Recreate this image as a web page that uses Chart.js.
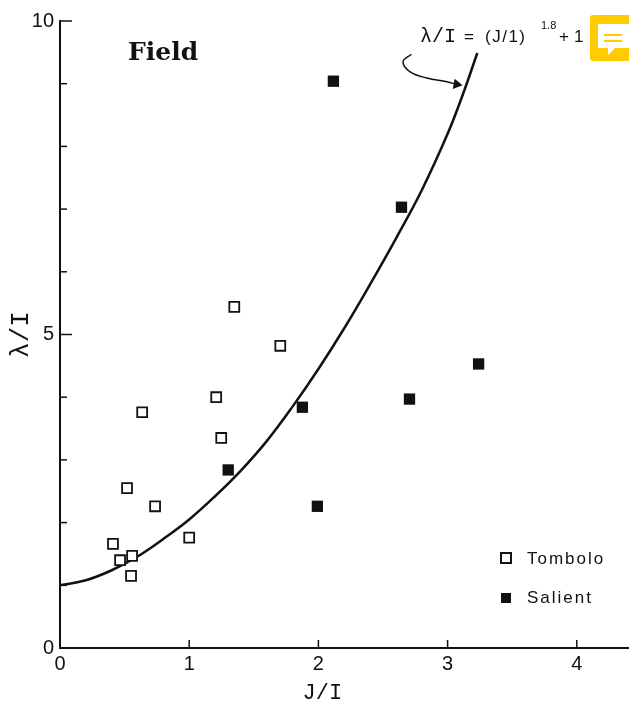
<!DOCTYPE html>
<html>
<head>
<meta charset="utf-8">
<title>Field</title>
<script src="https://cdn.jsdelivr.net/npm/chart.js@4"></script>
<style>
  html, body { margin: 0; padding: 0; background: #fff; }
  #wrap { position: relative; width: 629px; height: 702px; }
</style>
</head>
<body>
<div id="wrap"><canvas id="canvas" width="629" height="702"></canvas></div>
<script>
var tomboloX = [0.41, 0.465, 0.558, 0.55, 0.519, 0.736, 0.636, 1.0, 1.248, 1.209, 1.349, 1.705];
var tomboloY = [1.66, 1.40, 1.47, 1.15, 2.55, 2.26, 3.76, 1.76, 3.35, 4.0, 5.44, 4.82];

var salientX = [2.116, 2.643, 1.876, 1.302, 1.992, 2.705, 3.24];
var salientY = [9.04, 7.03, 3.84, 2.84, 2.26, 3.97, 4.53];

// curve
var curveX = [0, 0.2, 0.4, 0.6, 0.8, 1.0, 1.2, 1.4, 1.6, 1.8, 2.0, 2.2, 2.4, 2.6, 2.8, 3.0, 3.12, 3.23];
var curveY = [1.0, 1.08, 1.24, 1.46, 1.74, 2.05, 2.42, 2.83, 3.3, 3.85, 4.45, 5.1, 5.8, 6.53, 7.3, 8.2, 8.84, 9.49];

// the little arrow under the equation
var arrowX = [2.72, 2.655, 2.71, 2.84, 2.995, 3.07];
var arrowY = [9.47, 9.35, 9.19, 9.09, 9.03, 8.99];

var xTicks = [0, 1, 2, 3, 4];
var yTicks = [0, 1, 2, 3, 4, 5, 6, 7, 8, 9, 10];
var yLabelled = [0, 5, 10];
var xMax = 4.404;

function toPoints(xs, ys) {
  var pts = [];
  for (var i = 0; i < xs.length; i++) {
    pts.push({ x: xs[i], y: ys[i] });
  }
  return pts;
}

var paperPlugin = {
  id: 'paper',
  afterDraw: function (chart) {
    var ctx = chart.ctx;
    var sx = chart.scales.x;
    var sy = chart.scales.y;
    var i, p;

    // inward ticks
    ctx.save();
    ctx.strokeStyle = '#111';
    ctx.lineWidth = 1.5;
    for (i = 0; i < xTicks.length; i++) {
      if (xTicks[i] === 0) continue;
      p = sx.getPixelForValue(xTicks[i]);
      ctx.beginPath();
      ctx.moveTo(p, sy.bottom);
      ctx.lineTo(p, sy.bottom - 8);
      ctx.stroke();
    }
    for (i = 0; i < yTicks.length; i++) {
      if (yTicks[i] === 0) continue;
      p = sy.getPixelForValue(yTicks[i]);
      ctx.beginPath();
      ctx.moveTo(sx.left, p);
      ctx.lineTo(sx.left + (yLabelled.indexOf(yTicks[i]) >= 0 ? 12 : 7), p);
      ctx.stroke();
    }

    // x axis title sits left of the middle in the scan
    ctx.fillStyle = '#111';
    ctx.textBaseline = 'alphabetic';
    ctx.textAlign = 'center';
    ctx.font = '22px "Liberation Mono"';
    ctx.fillText('J/I', sx.getPixelForValue(2.03), 699);

    // heading and equation
    ctx.textAlign = 'left';
    ctx.font = 'bold 25px "DejaVu Serif"';
    ctx.fillText('Field', 128, 60);

    ctx.font = '20px "Liberation Mono"';
    ctx.fillText('λ/I', 420, 42);
    ctx.font = '17px "Liberation Sans"';
    ctx.fillText('=', 464, 42);
    ctx.letterSpacing = '1.5px';
    ctx.fillText('(J/1)', 485, 42);
    ctx.letterSpacing = '0px';
    ctx.font = '11px "Liberation Sans"';
    ctx.fillText('1.8', 541, 29);
    ctx.font = '17px "Liberation Sans"';
    ctx.fillText('+', 559, 42);
    ctx.fillText('1', 574, 42);

    // legend, names come from the datasets
    ctx.font = '17px "Liberation Sans"';
    ctx.letterSpacing = '2px';
    ctx.fillText(chart.data.datasets[0].label, 527, 564);
    ctx.fillText(chart.data.datasets[1].label, 527, 603);
    ctx.letterSpacing = '0px';
    ctx.strokeStyle = '#111';
    ctx.lineWidth = 2;
    ctx.strokeRect(501, 553, 10, 10);
    ctx.fillRect(501, 593, 10, 10);

    // yellow comment badge from the page the figure was scanned on
    ctx.fillStyle = '#FFCC00';
    ctx.beginPath();
    ctx.roundRect(590, 15, 45, 46, 3);
    ctx.fill();
    ctx.fillStyle = '#fff';
    ctx.beginPath();
    ctx.moveTo(598, 24);
    ctx.lineTo(629, 24);
    ctx.lineTo(629, 48);
    ctx.lineTo(615, 48);
    ctx.lineTo(608, 55);
    ctx.lineTo(608, 48);
    ctx.lineTo(598, 48);
    ctx.closePath();
    ctx.fill();
    ctx.fillStyle = '#FFCC00';
    ctx.fillRect(604, 34, 18, 2);
    ctx.fillRect(604, 40, 18, 2);
    ctx.restore();
  }
};

var ctx = document.getElementById('canvas').getContext('2d');
var chart = new Chart(ctx, {
  type: 'scatter',
  plugins: [paperPlugin],
  data: {
    datasets: [
      {
        label: 'Tombolo',
        data: toPoints(tomboloX, tomboloY),
        pointStyle: 'rect',
        pointRadius: 7,
        pointBorderWidth: 1.8,
        pointBackgroundColor: '#fff',
        pointBorderColor: '#111'
      },
      {
        label: 'Salient',
        data: toPoints(salientX, salientY),
        pointStyle: 'rect',
        pointRadius: 8,
        pointBorderWidth: 0,
        pointBackgroundColor: '#111',
        pointBorderColor: '#111'
      },
      {
        label: 'Curve',
        type: 'line',
        data: toPoints(curveX, curveY),
        borderColor: '#111',
        borderWidth: 2.5,
        pointRadius: 0,
        tension: 0.4,
        order: 1
      },
      {
        label: 'Arrow',
        type: 'line',
        data: toPoints(arrowX, arrowY),
        borderColor: '#111',
        borderWidth: 1.5,
        tension: 0.4,
        pointStyle: 'triangle',
        pointRadius: [0, 0, 0, 0, 0, 6],
        pointRotation: [0, 0, 0, 0, 0, 100],
        pointBackgroundColor: '#111',
        pointBorderWidth: 0
      }
    ]
  },
  options: {
    responsive: false,
    animation: false,
    layout: { autoPadding: false, padding: { top: 21, right: 0, bottom: 0, left: 0 } },
    plugins: {
      legend: { display: false },
      tooltip: { enabled: false }
    },
    scales: {
      x: {
        type: 'linear',
        min: 0,
        max: xMax,
        afterFit: function (scale) { scale.height = 54; },
        afterBuildTicks: function (scale) {
          scale.ticks = xTicks.map(function (v) { return { value: v }; });
        },
        border: { display: true, color: '#111', width: 2 },
        grid: { display: false, drawTicks: false },
        ticks: {
          color: '#111',
          font: { family: 'Liberation Sans', size: 20 },
          padding: 4,
          maxRotation: 0,
          callback: function (v) { return v; }
        }
      },
      y: {
        type: 'linear',
        min: 0,
        max: 10,
        afterFit: function (scale) { scale.width = 60; },
        afterBuildTicks: function (scale) {
          scale.ticks = yTicks.map(function (v) { return { value: v }; });
        },
        border: { display: true, color: '#111', width: 2 },
        grid: { display: false, drawTicks: false },
        ticks: {
          color: '#111',
          font: { family: 'Liberation Sans', size: 20 },
          padding: 6,
          autoSkip: false,
          callback: function (v) { return yLabelled.indexOf(v) >= 0 ? v : ''; }
        },
        title: {
          display: true,
          text: 'λ/I',
          color: '#111',
          font: { family: 'Liberation Mono', size: 26 },
          padding: { top: 6, bottom: 0 }
        }
      }
    }
  }
});
</script>
</body>
</html>
